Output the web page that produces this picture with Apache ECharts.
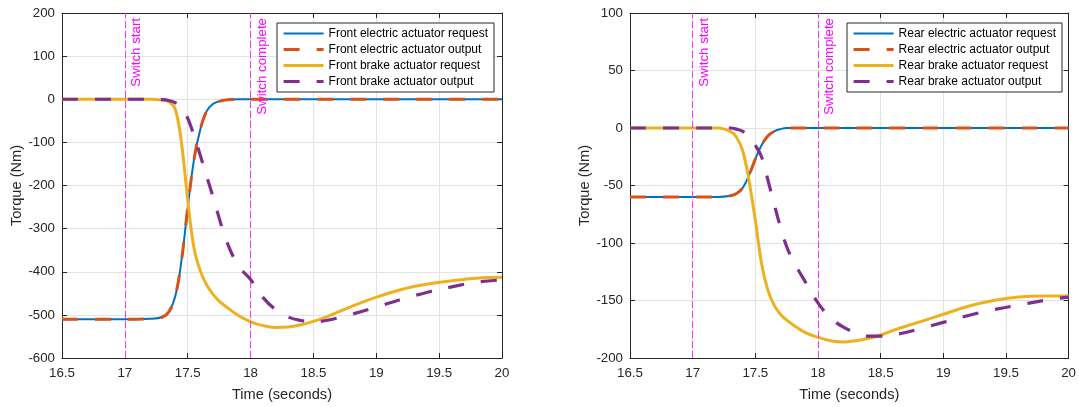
<!DOCTYPE html>
<html>
<head>
<meta charset="utf-8">
<script src="https://cdn.jsdelivr.net/npm/echarts@6/dist/echarts.min.js"></script>
<style>
  html, body { margin: 0; padding: 0; background: #ffffff; }
  #chart { width: 1079px; height: 407px; }
</style>
</head>
<body>
<div id="chart"></div>
<script>
// Sample times (seconds) shared by all traces
const time = [16.5, 17.0, 17.2, 17.3, 17.35, 17.4, 17.45, 17.5, 17.55, 17.6, 17.65, 17.7, 17.75, 17.8, 17.9,
              18.0, 18.1, 18.2, 18.3, 18.4, 18.5, 18.6, 18.8, 19.0, 19.2, 19.4, 19.6, 19.8, 20.0];

// Front axle torques (Nm)
const frontElecReq = [-510, -510, -509, -505, -493, -458, -375, -252, -140, -70, -28, -11, -5, -2, 0,
                      0, 0, 0, 0, 0, 0, 0, 0, 0, 0, 0, 0, 0, 0];
const frontElecOut = [-510, -510, -509, -505, -493, -458, -375, -252, -140, -70, -28, -11, -5, -2, 0,
                      0, 0, 0, 0, 0, 0, 0, 0, 0, 0, 0, 0, 0, 0];
const frontBrakeReq = [0, 0, 0, -2, -6, -22, -100, -234, -345, -398, -430, -452, -468, -480, -501,
                       -516, -525, -529, -528, -523, -515, -505, -481, -459, -441, -429, -421, -415, -413];
const frontBrakeOut = [0, 0, 0, -1, -3, -8, -20, -44, -85, -130, -178, -225, -275, -322, -385,
                       -418, -460, -488, -505, -513, -516, -513, -499, -482, -464, -448, -435, -424, -419];

// Rear axle torques (Nm)
const rearElecReq = [-60, -60, -60, -59, -57, -52, -41, -27, -15, -7, -3, -1, 0, 0, 0,
                     0, 0, 0, 0, 0, 0, 0, 0, 0, 0, 0, 0, 0, 0];
const rearElecOut = [-60, -60, -60, -59, -57, -52, -41, -27, -15, -7, -3, -1, 0, 0, 0,
                     0, 0, 0, 0, 0, 0, 0, 0, 0, 0, 0, 0, 0, 0];
const rearBrakeReq = [0, 0, 0, -3, -8, -20, -46, -80, -118, -141, -154, -162, -167, -171, -178,
                      -182, -185, -186, -185, -183, -180, -176, -169, -162, -155, -150, -147, -146, -146];
const rearBrakeOut = [0, 0, 0, 0, -1, -3, -8, -15, -25, -45, -66, -86, -103, -115, -134,
                      -152, -165, -173, -178, -181, -181, -180, -175, -169, -163, -158, -154, -150, -147];

// Event markers
const switchTimes = [17, 18];
const switchLabels = ['Switch start', 'Switch complete'];

const frontNames = ['Front electric actuator request', 'Front electric actuator output',
                    'Front brake actuator request', 'Front brake actuator output'];
const rearNames = ['Rear electric actuator request', 'Rear electric actuator output',
                   'Rear brake actuator request', 'Rear brake actuator output'];

const INK = '#262626';
const FONT = 'Liberation Sans, Arial, Helvetica, sans-serif';
const COLORS = ['#0072BD', '#D95319', '#EDB120', '#7E2F8E'];
const WIDTHS = [2, 3, 3, 3.2];
const DASHED = [false, true, false, true];

const pairs = vals => time.map((t, i) => [t, vals[i]]);

function bottomX(gridIndex) {
  return {
    type: 'value', gridIndex, position: 'bottom', min: 16.5, max: 20, interval: 0.5,
    name: 'Time (seconds)', nameLocation: 'middle', nameGap: 29,
    nameTextStyle: { color: INK, fontFamily: FONT, fontSize: 14.6 },
    axisLine: { show: true, onZero: false, lineStyle: { color: INK, width: 1 } },
    axisTick: { show: true, inside: true, length: 5, lineStyle: { color: INK } },
    axisLabel: { color: INK, fontFamily: FONT, fontSize: 13.3, margin: 9 },
    splitLine: { show: true, lineStyle: { color: '#e3e3e3', width: 1 } }
  };
}
function topX(gridIndex) {
  return {
    type: 'value', gridIndex, position: 'top', min: 16.5, max: 20, interval: 0.5,
    axisLine: { show: true, onZero: false, lineStyle: { color: INK, width: 1 } },
    axisTick: { show: true, inside: true, length: 5, lineStyle: { color: INK } },
    axisLabel: { show: false }, splitLine: { show: false }
  };
}
function leftY(gridIndex, min, max, interval) {
  return {
    type: 'value', gridIndex, position: 'left', min, max, interval,
    name: 'Torque (Nm)', nameLocation: 'middle', nameGap: 38,
    nameTextStyle: { color: INK, fontFamily: FONT, fontSize: 14.6 },
    axisLine: { show: true, onZero: false, lineStyle: { color: INK, width: 1 } },
    axisTick: { show: true, inside: true, length: 5, lineStyle: { color: INK } },
    axisLabel: { color: INK, fontFamily: FONT, fontSize: 13.3, margin: 7 },
    splitLine: { show: true, lineStyle: { color: '#e3e3e3', width: 1 } }
  };
}
function rightY(gridIndex, min, max, interval) {
  return {
    type: 'value', gridIndex, position: 'right', min, max, interval,
    axisLine: { show: true, onZero: false, lineStyle: { color: INK, width: 1 } },
    axisTick: { show: true, inside: true, length: 5, lineStyle: { color: INK } },
    axisLabel: { show: false }, splitLine: { show: false }
  };
}

function switchMarks() {
  return {
    silent: true,
    symbol: 'none',
    animation: false,
    lineStyle: { color: '#ff33ff', width: 1, type: [7, 3] },
    label: {
      show: true, position: 'insideEndBottom', distance: 5,
      color: '#ff00ff', fontFamily: FONT, fontSize: 13.3
    },
    data: switchTimes.map((t, i) => ({ xAxis: t, label: { formatter: switchLabels[i] } }))
  };
}

function lineStyleFor(k) {
  return { color: COLORS[k], width: WIDTHS[k], type: DASHED[k] ? [16, 17] : 'solid', cap: 'butt' };
}

function traces(names, values, axisIdx) {
  return values.map((vals, k) => ({
    type: 'line', name: names[k],
    xAxisIndex: axisIdx, yAxisIndex: axisIdx,
    data: pairs(vals),
    showSymbol: false, symbol: 'none',
    smooth: 0.4,
    animation: false,
    lineStyle: lineStyleFor(k),
    itemStyle: { color: COLORS[k] },
    markLine: k === 0 ? switchMarks() : undefined,
    z: 2 + k
  }));
}

function legendFor(names, left) {
  return {
    orient: 'vertical', left, top: 23,
    data: names.map((name, k) => ({ name, lineStyle: lineStyleFor(k) })),
    itemWidth: 40, itemHeight: 13, itemGap: 3,
    padding: [4, 6, 4, 5],
    itemStyle: { opacity: 0 },
    backgroundColor: '#ffffff', borderColor: INK, borderWidth: 1, borderRadius: 0,
    textStyle: { color: '#000000', fontFamily: FONT, fontSize: 12, lineHeight: 13 },
    selectedMode: false,
    z: 10
  };
}

const chart = echarts.init(document.getElementById('chart'), null, { renderer: 'canvas' });
chart.setOption({
  backgroundColor: '#ffffff',
  animation: false,
  color: COLORS,
  grid: [
    { left: 62, top: 13, width: 440, height: 345, containLabel: false },
    { left: 630, top: 13, width: 439, height: 345, containLabel: false }
  ],
  xAxis: [bottomX(0), topX(0), bottomX(1), topX(1)],
  yAxis: [leftY(0, -600, 200, 100), rightY(0, -600, 200, 100),
          leftY(1, -200, 100, 50), rightY(1, -200, 100, 50)],
  legend: [legendFor(frontNames, 277), legendFor(rearNames, 847)],
  series: [
    ...traces(frontNames, [frontElecReq, frontElecOut, frontBrakeReq, frontBrakeOut], 0),
    ...traces(rearNames, [rearElecReq, rearElecOut, rearBrakeReq, rearBrakeOut], 2)
  ]
});
</script>
</body>
</html>
